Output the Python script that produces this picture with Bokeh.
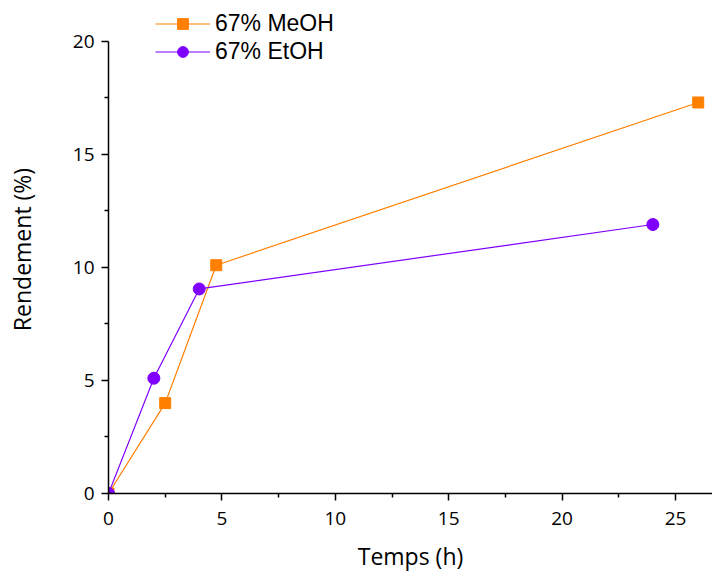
from bokeh.plotting import figure
from bokeh.models import Range1d, Legend, LegendItem, FixedTicker
from bokeh.embed import file_html
from bokeh.resources import INLINE

meoh_t = [0, 2.5, 4.75, 26]
meoh_y = [0, 4.0, 10.1, 17.3]
etoh_t = [0, 2, 4, 24]
etoh_y = [0, 5.1, 9.05, 11.9]
x_ticks = [0, 5, 10, 15, 20, 25]
x_minor = [2.5, 7.5, 12.5, 17.5, 22.5]
y_ticks = [0, 5, 10, 15, 20]
y_minor = [2.5, 7.5, 12.5, 17.5]

ORANGE = "#FF7F00"
PURPLE = "#7F00FF"

p = figure(width=712, height=579, output_backend="svg", toolbar_location=None,
           x_range=Range1d(0, 26.63), y_range=Range1d(0, 21.59),
           min_border_left=108, min_border_right=0, min_border_top=5, min_border_bottom=86)
p.outline_line_color = None
p.grid.visible = False
p.background_fill_color = "white"

l1 = p.line(meoh_t, meoh_y, line_color=ORANGE, line_width=1.2)
m1 = p.scatter(meoh_t, meoh_y, marker="square", size=11, fill_color=ORANGE, line_color=ORANGE)
l2 = p.line(etoh_t, etoh_y, line_color=PURPLE, line_width=1.2)
m2 = p.scatter(etoh_t, etoh_y, marker="circle", size=12, fill_color=PURPLE, line_color=PURPLE)

for ax in (p.xaxis[0], p.yaxis[0]):
    ax.axis_line_color = "black"
    ax.axis_line_width = 1.5
    ax.major_tick_line_color = "black"
    ax.major_tick_line_width = 1.5
    ax.minor_tick_line_color = "black"
    ax.minor_tick_line_width = 1.5
    ax.major_tick_in = 0
    ax.major_tick_out = 7
    ax.minor_tick_in = 0
    ax.minor_tick_out = 4
    ax.major_label_text_font = "Open Sans"
    ax.major_label_text_font_size = "19px"
    ax.major_label_text_color = "black"
    ax.axis_label_text_font = "Open Sans"
    ax.axis_label_text_font_size = "23px"
    ax.axis_label_text_font_style = "normal"
    ax.axis_label_text_color = "black"

p.xaxis[0].ticker = FixedTicker(ticks=x_ticks, minor_ticks=x_minor)
p.yaxis[0].ticker = FixedTicker(ticks=y_ticks, minor_ticks=y_minor)
p.yaxis[0].bounds = (0, 20)
p.xaxis[0].axis_label = "Temps (h)"
p.yaxis[0].axis_label = "Rendement (%)"
p.xaxis[0].axis_label_standoff = 12
p.yaxis[0].axis_label_standoff = 32
p.xaxis[0].major_label_standoff = 11
p.yaxis[0].major_label_standoff = 7

legend = Legend(items=[LegendItem(label="67% MeOH", renderers=[l1, m1]),
                       LegendItem(label="67% EtOH", renderers=[l2, m2])],
                location=(47, 428), orientation="vertical",
                glyph_width=55, glyph_height=27, label_height=27, spacing=1, padding=0, margin=0,
                label_standoff=5, label_text_font="Liberation Sans",
                label_text_font_size="23px", label_text_color="black",
                border_line_color=None, background_fill_alpha=0)
p.add_layout(legend)

open("out.html", "w").write(file_html(p, INLINE))
